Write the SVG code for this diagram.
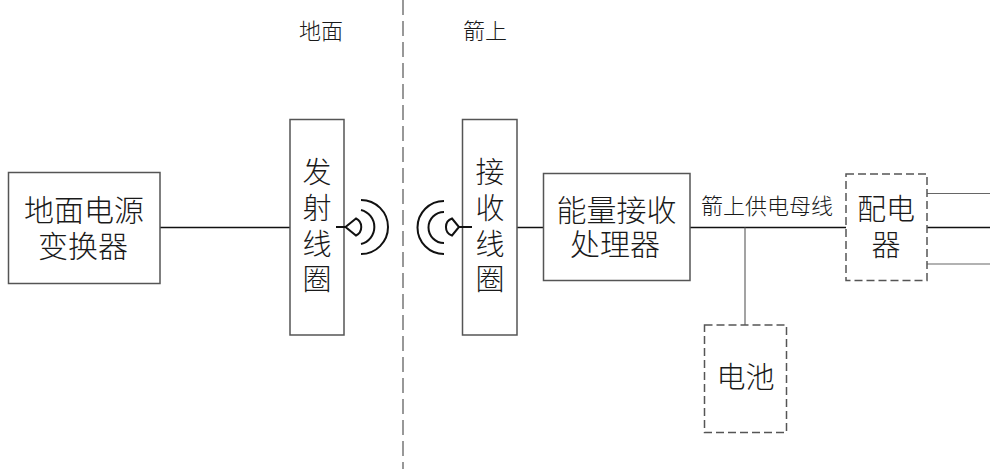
<svg xmlns="http://www.w3.org/2000/svg" width="1000" height="469" viewBox="0 0 1000 469">
<style>
  .box{fill:#fff;stroke:#555;stroke-width:1.5}
  .dbox{fill:#fff;stroke:#555;stroke-width:1.5;stroke-dasharray:8 4}
  .t{font-family:"Liberation Sans","Noto Sans CJK SC","Noto Sans CJK JP",sans-serif;font-weight:300;fill:#1a1a1a;text-anchor:middle;dominant-baseline:central}
  .big{font-size:29px}
  .lab{font-size:22px}
  .wire{stroke:#111;stroke-width:1.5;fill:none}
  .thin{stroke:#666;stroke-width:1.2;fill:none}
  .coil{stroke:#111;stroke-width:2;fill:none;stroke-linejoin:miter}
  .divider{stroke:#777;stroke-width:1.5;stroke-dasharray:15 6}
</style>
<rect width="1000" height="469" fill="#fff"/>
<line id="divider" class="divider" x1="403" y1="0" x2="403" y2="469"/>
<text class="t lab" x="321" y="31">地面</text>
<text class="t lab" x="485" y="31">箭上</text>
<g id="connectors">
  <line class="wire" x1="160" y1="227.5" x2="290" y2="227.5"/>
  <line class="wire" x1="517" y1="227.5" x2="543" y2="227.5"/>
  <line class="wire" x1="690" y1="227.5" x2="846" y2="227.5"/>
  <line class="thin" x1="745" y1="227.5" x2="745" y2="325"/>
  <line class="thin" x1="927" y1="193.5" x2="990" y2="193.5"/>
  <line class="wire" x1="927" y1="227.5" x2="990" y2="227.5"/>
  <line class="thin" x1="927" y1="264" x2="990" y2="264"/>
  <text class="t lab" x="767" y="206.5">箭上供电母线</text>
</g>
<g id="converter">
  <rect class="box" x="8.5" y="172.5" width="151.5" height="111"/>
  <text class="t big" style="font-size:30px"><tspan x="84" y="210">地面电源</tspan><tspan x="83" y="246">变换器</tspan></text>
</g>
<g id="tx-coil">
  <rect class="box" x="290" y="119.5" width="54" height="215.5"/>
  <text class="t big"><tspan x="317" y="173">发</tspan><tspan x="317" y="209">射</tspan><tspan x="317" y="245">线</tspan><tspan x="317" y="280">圈</tspan></text>
  <line class="coil" x1="336" y1="227" x2="345" y2="227"/>
  <path class="coil" d="M356,218.5 L345.5,227 L356,235.5 A9.5,9.5 0 0 0 356,218.5 Z"/>
  <path class="coil" d="M361,210 A17.5,17.5 0 0 1 361,244"/>
  <path class="coil" d="M361,200 A27,27 0 0 1 361,254"/>
</g>
<g id="rx-coil">
  <rect class="box" x="462.5" y="119.5" width="54.5" height="215.5"/>
  <text class="t big"><tspan x="490" y="173">接</tspan><tspan x="490" y="209">收</tspan><tspan x="490" y="245">线</tspan><tspan x="490" y="280">圈</tspan></text>
  <line class="coil" x1="459" y1="227" x2="472" y2="227"/>
  <path class="coil" d="M452,218.5 L459,227 L452,235.5 A9,9 0 0 1 452,218.5 Z"/>
  <path class="coil" d="M444,212 A15.5,15.5 0 0 0 444,243"/>
  <path class="coil" d="M444,201 A26.5,26.5 0 0 0 444,254"/>
</g>
<g id="processor">
  <rect class="box" x="543.5" y="173.5" width="146.5" height="107"/>
  <text class="t big" style="font-size:30px"><tspan x="616.5" y="210">能量接收</tspan><tspan x="615" y="244">处理器</tspan></text>
</g>
<g id="distributor">
  <rect class="dbox" x="846" y="174" width="81" height="106.5"/>
  <text class="t big"><tspan x="886" y="210">配电</tspan><tspan x="886" y="246">器</tspan></text>
</g>
<g id="battery">
  <rect class="dbox" x="704.5" y="325" width="82" height="107.5"/>
  <text class="t big" x="745.5" y="378">电池</text>
</g>
</svg>
